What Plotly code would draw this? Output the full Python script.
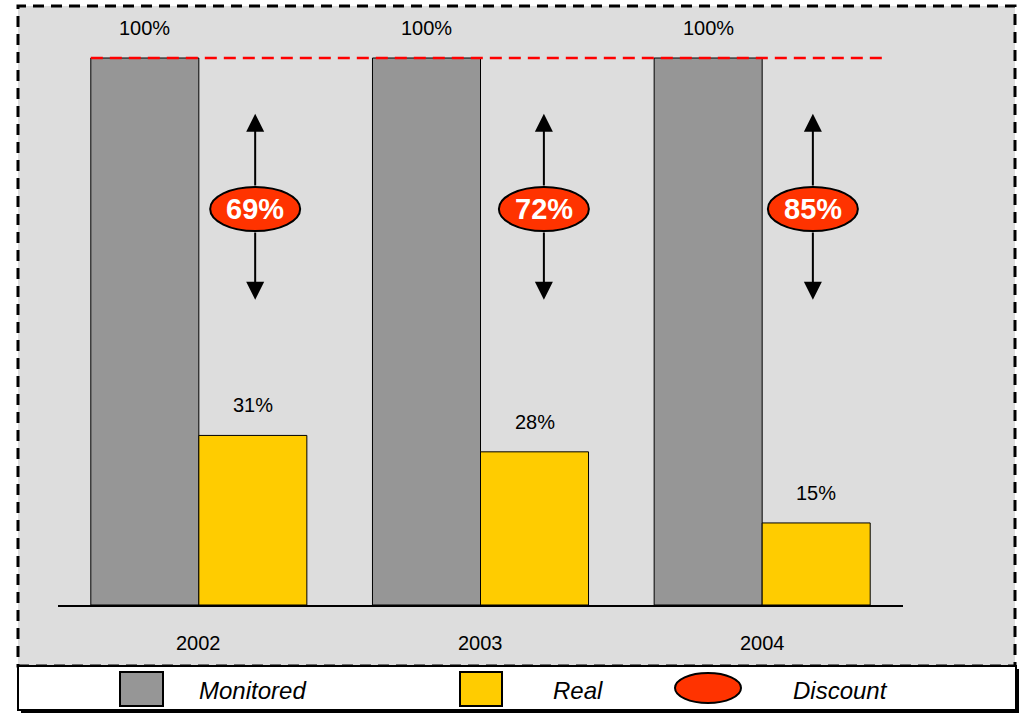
import plotly.graph_objects as go

# ---- data ----
years = ["2002", "2003", "2004"]
monitored = [100, 100, 100]
real = [31, 28, 15]
discount = [69, 72, 85]
series_names = ["Monitored", "Real", "Discount"]

# ---- style / layout constants ----
W, H = 1026, 715
GRAY = "#969696"
YELLOW = "#FFCC00"
RED = "#FF3300"
BG = "#DDDDDD"
NARROW = "Liberation Sans, Arial, sans-serif"
SANS = "Liberation Sans, Arial, sans-serif"

plot_l, plot_r = 58, 903
plot_t, plot_b = 20, 605
px_per_unit_y = 5.47
y_top = (plot_b - plot_t) / px_per_unit_y
x_unit_px = (plot_r - plot_l) / 3.0

arrow_dx = [0.20, 0.225, 0.18]   # horizontal offset of discount arrows (layout)
ell_y = 72.4
ell_hw = 45 / x_unit_px
ell_hh = 22 / px_per_unit_y
arrow_top = 89.8
arrow_bot = 55.8

xs = list(range(len(years)))

fig = go.Figure()
fig.add_trace(go.Bar(x=xs, y=monitored, name=series_names[0], marker=dict(color=GRAY, line=dict(color="black", width=1)), showlegend=False))
fig.add_trace(go.Bar(x=xs, y=real, name=series_names[1], marker=dict(color=YELLOW, line=dict(color="black", width=1)), showlegend=False))

bar_w = 0.3835
shapes = []
annotations = []

def px(x):
    return x / W

def py(y):
    return 1 - y / H

# background dashed box
shapes.append(dict(type="rect", xref="paper", yref="paper", x0=px(18), x1=px(1015), y0=py(666), y1=py(6),
                   fillcolor=BG, line=dict(color="black", width=3, dash="11px,7px"), layer="below"))
# legend box with shadow
shapes.append(dict(type="rect", xref="paper", yref="paper", x0=px(21), x1=px(1019), y0=py(713), y1=py(669),
                   fillcolor="black", line=dict(width=0), layer="below"))
shapes.append(dict(type="rect", xref="paper", yref="paper", x0=px(18), x1=px(1016), y0=py(710), y1=py(666),
                   fillcolor="white", line=dict(color="black", width=2), layer="below"))

# 100% dashed red reference line
shapes.append(dict(type="line", xref="x", yref="y", x0=-bar_w, x1=2.44, y0=monitored[0], y1=monitored[0],
                   line=dict(color="#FF0000", width=2.5, dash="12px,7px"), layer="above"))

for i, yr in enumerate(years):
    xm = i - bar_w / 2
    xr = i + bar_w / 2
    annotations.append(dict(x=xm, y=monitored[i], xref="x", yref="y", text=f"{monitored[i]}%", showarrow=False,
                            yshift=30, font=dict(family=NARROW, size=20, color="black")))
    annotations.append(dict(x=xr, y=real[i], xref="x", yref="y", text=f"{real[i]}%", showarrow=False,
                            yshift=30, font=dict(family=NARROW, size=20, color="black")))
    annotations.append(dict(x=i, y=0, xref="x", yref="y", text=yr, showarrow=False,
                            yshift=-38, font=dict(family=NARROW, size=20, color="black")))
    cx = i + arrow_dx[i]
    # arrows
    annotations.append(dict(x=cx, y=arrow_top, ax=cx, ay=ell_y + ell_hh, xref="x", yref="y", axref="x", ayref="y",
                            text="", showarrow=True, arrowhead=2, arrowsize=1.8, arrowwidth=2, arrowcolor="black"))
    annotations.append(dict(x=cx, y=arrow_bot, ax=cx, ay=ell_y - ell_hh, xref="x", yref="y", axref="x", ayref="y",
                            text="", showarrow=True, arrowhead=2, arrowsize=1.8, arrowwidth=2, arrowcolor="black"))
    shapes.append(dict(type="circle", xref="x", yref="y", x0=cx - ell_hw, x1=cx + ell_hw, y0=ell_y - ell_hh, y1=ell_y + ell_hh,
                       fillcolor=RED, line=dict(color="black", width=2), layer="above"))
    annotations.append(dict(x=cx, y=ell_y, xref="x", yref="y", text=f"<b>{discount[i]}%</b>", showarrow=False,
                            font=dict(family=SANS, size=29, color="white")))

# legend items
shapes.append(dict(type="rect", xref="paper", yref="paper", x0=px(120), x1=px(163), y0=py(706), y1=py(672),
                   fillcolor=GRAY, line=dict(color="black", width=2), layer="above"))
shapes.append(dict(type="rect", xref="paper", yref="paper", x0=px(460), x1=px(502), y0=py(706), y1=py(672),
                   fillcolor=YELLOW, line=dict(color="black", width=2), layer="above"))
shapes.append(dict(type="circle", xref="paper", yref="paper", x0=px(675), x1=px(741), y0=py(703), y1=py(673),
                   fillcolor=RED, line=dict(color="black", width=2), layer="above"))
for name, cxp in zip(series_names, [252, 578, 840]):
    annotations.append(dict(x=px(cxp), y=py(690), xref="paper", yref="paper", text=f"<i>{name}</i>", showarrow=False,
                            xanchor="center", yanchor="middle",
                            font=dict(family=SANS, size=24, color="black")))

fig.update_layout(
    width=W, height=H,
    margin=dict(l=0, r=0, t=0, b=0),
    paper_bgcolor="white",
    plot_bgcolor="rgba(0,0,0,0)",
    barmode="group",
    bargap=1 - 2 * bar_w,
    bargroupgap=0,
    shapes=shapes,
    annotations=annotations,
    xaxis=dict(domain=[plot_l / W, plot_r / W], range=[-0.5, 2.5], showgrid=False, zeroline=False,
               showline=True, linecolor="black", linewidth=1.5, showticklabels=False, ticks=""),
    yaxis=dict(domain=[1 - plot_b / H, 1 - plot_t / H], range=[0, y_top], showgrid=False, zeroline=False,
               showline=False, showticklabels=False, ticks=""),
)

fig.write_html("out.html")
